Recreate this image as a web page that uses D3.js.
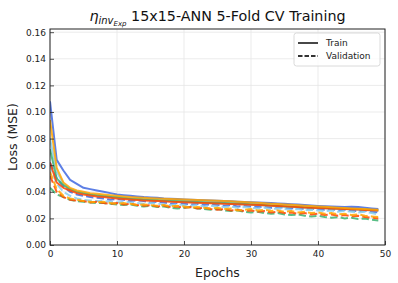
<!DOCTYPE html>
<html><head><meta charset="utf-8">
<script src="https://cdn.jsdelivr.net/npm/d3@7"></script>
<style>body{margin:0;background:#fff}svg{display:block;font-family:"DejaVu Sans",sans-serif}</style>
</head><body><svg id="c" width="398" height="283"></svg>
<script>
const epochs = d3.range(0, 50);
const foldNames = ["Fold 1","Fold 2","Fold 3","Fold 4","Fold 5"];
const foldColors = ["#4169e1","#87ceeb","#3cb371","#ff4500","#ffa500"];
const xTicks = [0,10,20,30,40,50];
const yTicks = [0,0.02,0.04,0.06,0.08,0.10,0.12,0.14,0.16];

const trainFold1 = [0.108,0.064,0.056,0.049,0.046,0.043,0.042,0.041,0.040,0.039,0.038,0.0375,0.037,0.0365,0.036,0.0358,0.0355,0.035,0.0348,0.0345,0.0343,0.034,0.0338,0.0336,0.0334,0.0332,0.033,0.0328,0.0326,0.0324,0.0322,0.032,0.0318,0.0315,0.0312,0.031,0.0307,0.0304,0.030,0.0297,0.0294,0.0292,0.029,0.0288,0.0286,0.0288,0.0285,0.028,0.0275,0.027];
const trainFold2 = [0.080,0.055,0.046,0.042,0.040,0.039,0.038,0.0372,0.0365,0.036,0.0355,0.035,0.0345,0.0342,0.0339,0.0336,0.0333,0.033,0.0328,0.0326,0.0324,0.0322,0.032,0.0318,0.0316,0.0314,0.0312,0.031,0.0308,0.0306,0.0303,0.030,0.0297,0.0294,0.0291,0.0288,0.0286,0.0284,0.0282,0.028,0.0278,0.0276,0.0274,0.0272,0.027,0.0268,0.0266,0.0264,0.0262,0.026];
const trainFold3 = [0.072,0.050,0.045,0.042,0.040,0.039,0.038,0.0375,0.037,0.0365,0.036,0.0355,0.035,0.0347,0.0344,0.0341,0.0338,0.0335,0.0332,0.033,0.0328,0.0326,0.0324,0.0322,0.032,0.0318,0.0316,0.0314,0.0312,0.031,0.0307,0.0304,0.0301,0.0298,0.0295,0.0292,0.029,0.0287,0.0284,0.0282,0.028,0.0278,0.0276,0.0274,0.0272,0.027,0.0268,0.0266,0.0264,0.0262];
const trainFold4 = [0.062,0.047,0.043,0.041,0.039,0.038,0.0372,0.0365,0.036,0.0355,0.035,0.0346,0.0342,0.0338,0.0335,0.0332,0.033,0.0328,0.0326,0.0324,0.0322,0.032,0.0318,0.0316,0.0314,0.0312,0.031,0.0308,0.0306,0.0304,0.0302,0.030,0.0298,0.0296,0.0294,0.0291,0.0288,0.0285,0.0282,0.028,0.0278,0.0276,0.0274,0.0272,0.027,0.0268,0.0266,0.0264,0.0262,0.026];
const trainFold5 = [0.094,0.058,0.047,0.043,0.041,0.040,0.039,0.0385,0.038,0.0375,0.037,0.0365,0.036,0.0358,0.0355,0.0352,0.035,0.0348,0.0346,0.0344,0.0342,0.034,0.0338,0.0336,0.0334,0.0332,0.033,0.0328,0.0326,0.0323,0.032,0.0317,0.0314,0.0311,0.0308,0.0305,0.0302,0.0299,0.0296,0.0293,0.029,0.0287,0.0284,0.0281,0.0278,0.0275,0.0272,0.027,0.0267,0.0265];

const valFold1 = [0.062,0.050,0.044,0.040,0.038,0.037,0.036,0.0355,0.035,0.034,0.0345,0.034,0.033,0.0335,0.033,0.032,0.0325,0.032,0.031,0.0315,0.031,0.0305,0.031,0.030,0.0305,0.030,0.0295,0.030,0.029,0.0295,0.029,0.0285,0.029,0.028,0.0285,0.028,0.0275,0.028,0.027,0.0275,0.027,0.0265,0.027,0.026,0.0265,0.026,0.0255,0.026,0.025,0.0245];
const valFold2 = [0.060,0.046,0.040,0.037,0.035,0.034,0.0335,0.033,0.033,0.0325,0.032,0.0325,0.032,0.0315,0.031,0.0315,0.031,0.0305,0.030,0.0305,0.030,0.0295,0.030,0.029,0.0295,0.029,0.0285,0.029,0.028,0.0285,0.028,0.0275,0.028,0.027,0.0275,0.027,0.0265,0.027,0.026,0.0265,0.026,0.0255,0.026,0.025,0.0255,0.025,0.0245,0.025,0.024,0.023];
const valFold3 = [0.043,0.038,0.036,0.034,0.033,0.0325,0.032,0.0315,0.0315,0.031,0.0305,0.030,0.0305,0.0295,0.029,0.0295,0.0285,0.029,0.028,0.0275,0.028,0.0285,0.0275,0.027,0.0265,0.027,0.026,0.0255,0.026,0.025,0.0245,0.025,0.024,0.0235,0.024,0.023,0.0225,0.023,0.022,0.0215,0.022,0.021,0.0205,0.021,0.020,0.0205,0.0195,0.020,0.019,0.0185];
const valFold4 = [0.052,0.040,0.036,0.034,0.0335,0.033,0.032,0.0325,0.0315,0.031,0.0315,0.0305,0.031,0.030,0.0295,0.030,0.029,0.0295,0.0285,0.029,0.028,0.0285,0.0275,0.028,0.027,0.0265,0.027,0.026,0.0265,0.0255,0.026,0.025,0.0255,0.0245,0.025,0.024,0.0245,0.0235,0.024,0.023,0.0235,0.0225,0.023,0.022,0.0225,0.0215,0.022,0.021,0.0205,0.020];
const valFold5 = [0.055,0.042,0.037,0.035,0.034,0.033,0.0325,0.032,0.0325,0.0315,0.031,0.0315,0.031,0.030,0.0305,0.030,0.0295,0.030,0.029,0.0295,0.029,0.028,0.0285,0.028,0.0275,0.028,0.027,0.0275,0.026,0.0265,0.027,0.026,0.0265,0.0255,0.026,0.025,0.0255,0.0245,0.025,0.024,0.0245,0.0235,0.024,0.023,0.0235,0.0225,0.023,0.022,0.0215,0.021];

const trainSeries = [trainFold1,trainFold2,trainFold3,trainFold4,trainFold5];
const valSeries = [valFold1,valFold2,valFold3,valFold4,valFold5];

const svg = d3.select("#c");
const L = 50, R = 385, T = 29, B = 245;
const x = d3.scaleLinear().domain([0,50]).range([L,R]);
const y = d3.scaleLinear().domain([0,0.1624]).range([B,T]);

// grid
svg.append("g").selectAll("line").data(xTicks).join("line")
  .attr("x1",d=>x(d)).attr("x2",d=>x(d)).attr("y1",T).attr("y2",B)
  .attr("stroke","#e6e6e6").attr("stroke-width",0.8);
svg.append("g").selectAll("line").data(yTicks).join("line")
  .attr("x1",L).attr("x2",R).attr("y1",d=>y(d)).attr("y2",d=>y(d))
  .attr("stroke","#e6e6e6").attr("stroke-width",0.8);

svg.append("clipPath").attr("id","clp").append("rect")
  .attr("x",L).attr("y",T).attr("width",R-L).attr("height",B-T);

const line = d3.line().x((d,i)=>x(epochs[i])).y(d=>y(d));
const plot = svg.append("g").attr("clip-path","url(#clp)");
for (let k=0;k<5;k++){
  plot.append("path").attr("d",line(trainSeries[k])).attr("fill","none")
    .attr("stroke",foldColors[k]).attr("stroke-width",2).attr("stroke-opacity",0.85)
    .attr("stroke-linejoin","round");
  plot.append("path").attr("d",line(valSeries[k])).attr("fill","none")
    .attr("stroke",foldColors[k]).attr("stroke-width",2).attr("stroke-opacity",0.85)
    .attr("stroke-dasharray","7.4,3.2");
}

// axes
const xAxis = d3.axisBottom(x).tickValues(xTicks).tickFormat(d3.format("d")).tickSizeInner(-4).tickSizeOuter(0).tickPadding(4);
const yAxis = d3.axisLeft(y).tickValues(yTicks).tickFormat(d3.format(".2f")).tickSizeInner(-4).tickSizeOuter(0).tickPadding(4);
const gx = svg.append("g").attr("transform",`translate(0,${B})`).call(xAxis);
const gy = svg.append("g").attr("transform",`translate(${L},0)`).call(yAxis);
[gx,gy].forEach(g=>{
  g.select(".domain").remove();
  g.selectAll("text").attr("font-family","DejaVu Sans").attr("font-size",9).attr("fill","#222");
  g.selectAll("line").attr("stroke","#222").attr("stroke-width",0.8);
});
gx.selectAll("text").attr("dy","0.85em");

svg.append("rect").attr("x",L).attr("y",T).attr("width",R-L).attr("height",B-T)
  .attr("fill","none").attr("stroke","#222").attr("stroke-width",1);

// labels
svg.append("text").attr("x",(L+R)/2).attr("y",277).attr("text-anchor","middle")
  .attr("font-size",12.5).attr("fill","#222").text("Epochs");
svg.append("text").attr("transform",`translate(17,${(T+B)/2}) rotate(-90)`).attr("text-anchor","middle")
  .attr("font-size",12.5).attr("fill","#222").text("Loss (MSE)");

const title = svg.append("text").attr("x",(L+R)/2).attr("y",21).attr("text-anchor","middle")
  .attr("font-size",14.3).attr("fill","#111");
title.append("tspan").attr("font-style","italic").text("η");
title.append("tspan").attr("font-style","italic").attr("font-size",10).attr("dy",3).text("inv");
title.append("tspan").attr("font-style","italic").attr("font-size",7).attr("dy",2).text("Exp");
title.append("tspan").attr("dy",-5).text(" 15x15-ANN 5-Fold CV Training");

// legend
const lg = svg.append("g");
lg.append("rect").attr("x",294).attr("y",33).attr("width",86).attr("height",33).attr("rx",2.5)
  .attr("fill","#fff").attr("fill-opacity",0.8).attr("stroke","#d0d0d0").attr("stroke-width",0.8);
const legendItems = [{label:"Train",dash:null},{label:"Validation",dash:"4.5,2"}];
legendItems.forEach((it,i)=>{
  const yy = 43 + i*13;
  const l = lg.append("line").attr("x1",298).attr("x2",318).attr("y1",yy).attr("y2",yy)
    .attr("stroke","#333").attr("stroke-width",1.8);
  if (it.dash) l.attr("stroke-dasharray",it.dash);
  lg.append("text").attr("x",326).attr("y",yy+3.2).attr("font-size",9).attr("fill","#222").text(it.label);
});
</script></body></html>
